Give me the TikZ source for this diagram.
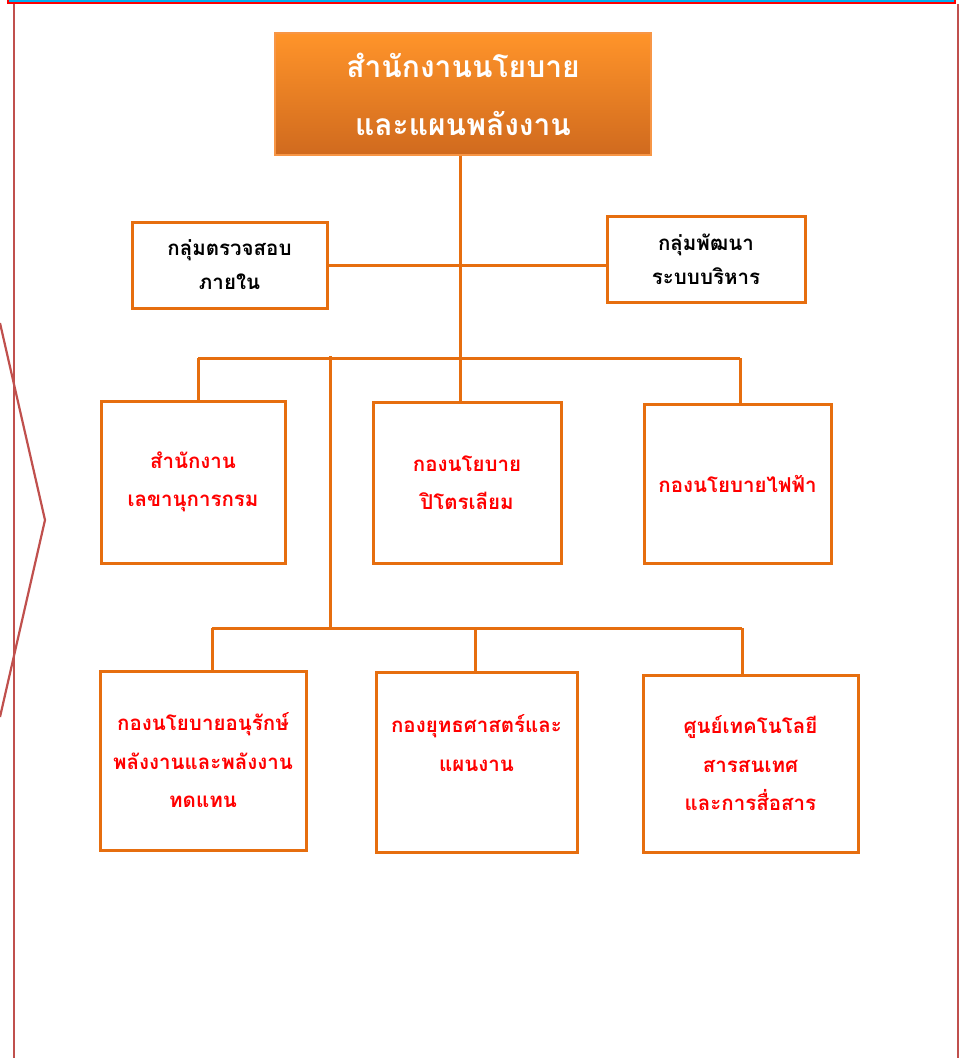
\documentclass[tikz,border=0pt]{standalone}
\usepackage{fontspec}
\newfontfamily\thaifont[Script=Thai]{Loma}
\usetikzlibrary{calc}
\definecolor{linkorange}{RGB}{230,110,15}
\definecolor{headtop}{RGB}{255,148,42}
\definecolor{headbot}{RGB}{208,106,30}
\definecolor{headline}{RGB}{247,150,70}
\definecolor{framered}{RGB}{192,80,77}
\tikzset{
	unitbox/.style={draw=linkorange, line width=3pt, fill=white, align=center, inner sep=2pt},
	blacktext/.style={font={\thaifont\bfseries\fontsize{20.5}{34}\selectfont}, text=black},
	redtext/.style={font={\thaifont\bfseries\fontsize{20.5}{38.5}\selectfont}, text=red},
	link/.style={draw=linkorange, line width=3pt}
}

\begin{document}
\begin{tikzpicture}[x=1pt, y=-1pt]
		%%%%% START %%%%%
		\useasboundingbox (0, 0) rectangle (964, 1058);
		
		% page frame
		\draw[draw=red, fill=cyan, line width=1.6pt] (8, -5) rectangle (955, 3);
		\draw[framered, line width=2.2pt] (14, 4) -- (14, 1058);
		\draw[framered, line width=2.2pt] (958, 4) -- (958, 1058);
		\draw[framered, line width=2.2pt] (0, 323) -- (45, 520) -- (0, 717);
		
		% head
		\node[draw=headline, line width=1.2pt, top color=headtop, bottom color=headbot,
			minimum width=376, minimum height=122, align=center, text=white,
			font={\thaifont\bfseries\fontsize{30}{58}\selectfont}] (head) at (463, 94)
			{สำนักงานนโยบาย\\และแผนพลังงาน};
		
		% staff groups
		\node[unitbox, blacktext, minimum width=195, minimum height=86] (audit) at (229.5, 265) {กลุ่มตรวจสอบ\\ภายใน};
		\node[unitbox, blacktext, minimum width=198, minimum height=86] (admin) at (706, 259) {กลุ่มพัฒนา\\ระบบบริหาร};
		
		% first row
		\node[unitbox, redtext, minimum width=184, minimum height=162] (secr) at (193, 482) {สำนักงาน\\เลขานุการกรม};
		\node[unitbox, redtext, minimum width=188, minimum height=161] (petro) at (467, 482.5) {กองนโยบาย\\ปิโตรเลียม};
		\node[unitbox, redtext, minimum width=187, minimum height=159] (elec) at (737.5, 483.5) {กองนโยบายไฟฟ้า};
		
		% second row
		\node[unitbox, redtext, minimum width=206, minimum height=179] (cons) at (203, 760.5) {กองนโยบายอนุรักษ์\\พลังงานและพลังงาน\\ทดแทน};
		\node[unitbox, redtext, minimum width=201, minimum height=180] (strat) at (476.5, 762) {กองยุทธศาสตร์และ\\แผนงาน\\\mbox{}};
		\node[unitbox, redtext, minimum width=215, minimum height=177] (ict) at (750.5, 763.5) {ศูนย์เทคโนโลยี\\สารสนเทศ\\และการสื่อสาร};
		
		% buses
		\coordinate (busA) at (198, 358);
		\coordinate (busB) at (460, 358);
		\coordinate (busC) at (740, 358);
		\coordinate (trunk) at (330, 356);
		\coordinate (busD) at (212, 628);
		\coordinate (busE) at (475, 628);
		\coordinate (busF) at (742, 628);
		
		\draw[link] (busB |- head.south) -- (busB);
		\draw[link] (audit.east) -- (audit.east -| admin.west);
		\draw[link] (busA) -- (busC);
		\draw[link] (busA) -- (busA |- secr.north);
		\draw[link] (busB) -- (busB |- petro.north);
		\draw[link] (busC) -- (busC |- elec.north);
		\draw[link] (trunk) -- (trunk |- busD);
		\draw[link] (busD) -- (busF);
		\draw[link] (busD) -- (busD |- cons.north);
		\draw[link] (busE) -- (busE |- strat.north);
		\draw[link] (busF) -- (busF |- ict.north);
		
		%%%%% END %%%%%
	\end{tikzpicture}
\end{document}
